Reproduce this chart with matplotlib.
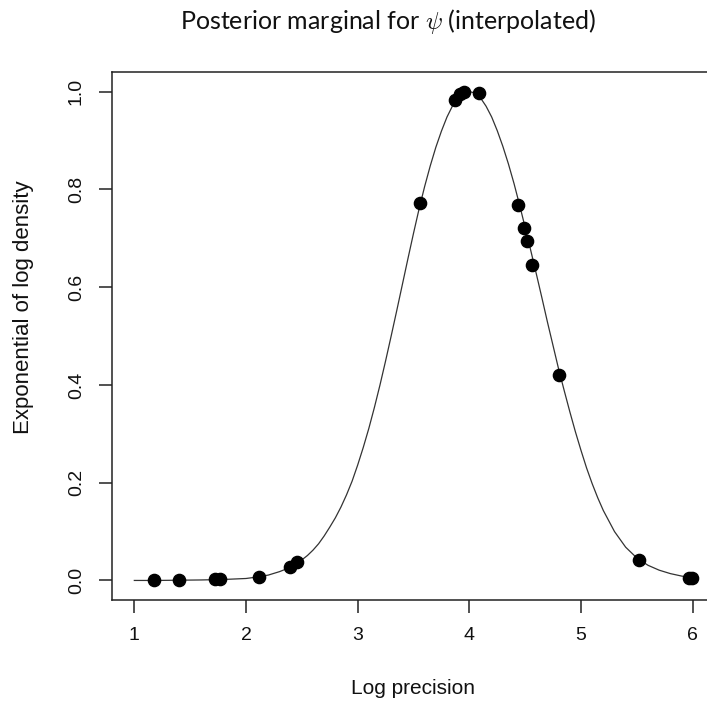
import matplotlib
matplotlib.use("Agg")
import matplotlib.pyplot as plt

# evaluated points of the log precision marginal
pts_x = [1.18, 1.40, 1.72, 1.77, 2.12, 2.39, 2.46, 3.56, 3.87, 3.92, 3.95,
         4.09, 4.44, 4.49, 4.52, 4.56, 4.80, 5.52, 5.97, 5.99]
pts_y = [0.001, 0.001, 0.002, 0.002, 0.008, 0.028, 0.038, 0.772, 0.982,
         0.995, 1.000, 0.997, 0.768, 0.721, 0.695, 0.646, 0.421, 0.041,
         0.006, 0.0055]

# interpolated curve
curve_x = [1.0, 1.2, 1.4, 1.6, 1.8, 2.0, 2.1, 2.2, 2.3, 2.4, 2.5, 2.55, 2.6,
           2.65, 2.7, 2.75, 2.8, 2.85, 2.9, 2.95, 3.0, 3.05, 3.1, 3.15, 3.2,
           3.25, 3.3, 3.35, 3.4, 3.45, 3.5, 3.55, 3.6, 3.65, 3.7, 3.75, 3.8,
           3.85, 3.9, 3.95, 4.0, 4.05, 4.1, 4.15, 4.2, 4.25, 4.3, 4.35, 4.4,
           4.45, 4.5, 4.55, 4.6, 4.65, 4.7, 4.75, 4.8, 4.85, 4.9, 4.95, 5.0,
           5.05, 5.1, 5.15, 5.2, 5.3, 5.4, 5.5, 5.6, 5.7, 5.8, 5.9, 6.0]
curve_y = [0.000, 0.000, 0.0005, 0.001, 0.002, 0.004, 0.007, 0.011, 0.018,
           0.027, 0.042, 0.051, 0.062, 0.075, 0.091, 0.109, 0.128, 0.150,
           0.175, 0.203, 0.236, 0.272, 0.311, 0.354, 0.400, 0.449, 0.500,
           0.552, 0.605, 0.658, 0.710, 0.760, 0.806, 0.848, 0.886, 0.919,
           0.948, 0.971, 0.988, 0.998, 1.000, 0.997, 0.987, 0.970, 0.948,
           0.920, 0.888, 0.852, 0.812, 0.768, 0.722, 0.675, 0.627, 0.578,
           0.528, 0.480, 0.432, 0.388, 0.345, 0.304, 0.266, 0.230, 0.198,
           0.169, 0.143, 0.100, 0.068, 0.046, 0.031, 0.021, 0.014, 0.009,
           0.005]

xticks = [1, 2, 3, 4, 5, 6]
yticks = [0.0, 0.2, 0.4, 0.6, 0.8, 1.0]

plt.rcParams['font.family'] = ['Liberation Sans', 'DejaVu Sans']
plt.rcParams['mathtext.fontset'] = 'cm'

W, H = 707, 706
fig = plt.figure(figsize=(W / 100, H / 100), dpi=100)
# right edge of the box falls just outside the image
ax = fig.add_axes([112 / W, (H - 600) / H, (715 - 112) / W, (600 - 72) / H])

ax.plot(curve_x, curve_y, color='#333333', lw=0.9, zorder=2)
ax.plot(pts_x, pts_y, 'o', color='black', ms=8.8, mec='black', zorder=3)

ax.set_xlim(0.8, 6.2)
ax.set_ylim(-0.04, 1.04)
ax.set_xticks(xticks)
ax.set_xticklabels([str(v) for v in xticks])
ax.set_yticks(yticks)
ax.set_yticklabels(['%.1f' % v for v in yticks], rotation=90, va='center')

for s in ax.spines.values():
    s.set_linewidth(1.1)
    s.set_color('#222222')
ax.tick_params(length=9.5, width=1.1, color='#222222', labelsize=14,
               pad=10, labelcolor='#111111')

fig.text(413 / W, 1 - 689 / H, 'Log precision', ha='center', va='center',
         fontsize=15, color='#111111')
fig.text(24 / W, 1 - 307 / H, 'Exponential of log density', ha='center',
         va='center', rotation=90, fontsize=16, color='#111111')
fig.text(388 / W, 1 - 22 / H, r'Posterior marginal for $\psi$ (interpolated)',
         ha='center', va='center', fontsize=18, family=['Lato', 'DejaVu Sans'],
         color='#111111')

fig.savefig('out.png', dpi=100)
